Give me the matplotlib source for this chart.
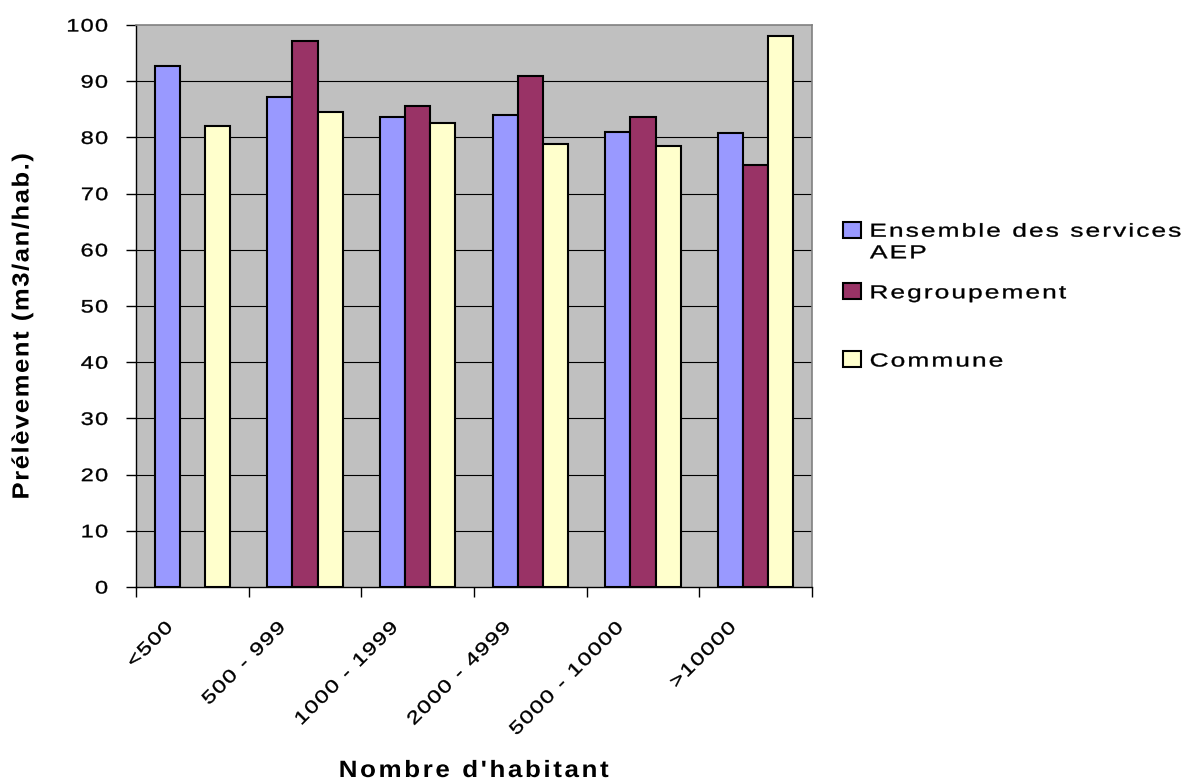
import numpy as np
import matplotlib
matplotlib.use("Agg")
import matplotlib.pyplot as plt
from matplotlib.patches import Rectangle
from matplotlib.patheffects import AbstractPathEffect
from matplotlib.path import Path
from matplotlib.transforms import Affine2D, ScaledTranslation

# ---- data -------------------------------------------------------------
categories = ["<500", "500 - 999", "1000 - 1999", "2000 - 4999",
              "5000 - 10000", ">10000"]
series_names = [["Ensemble des services", "AEP"], ["Regroupement"], ["Commune"]]
ensemble = [92.7, 87.1, 83.6, 83.9, 80.9, 80.8]
regroupement = [np.nan, 97.1, 85.5, 90.9, 83.6, 75.1]
commune = [82.0, 84.6, 82.6, 78.8, 78.5, 98.0]
y_ticks = [0, 10, 20, 30, 40, 50, 60, 70, 80, 90, 100]

colors = ["#9999FF", "#993366", "#FFFFCC"]

plt.rcParams["font.family"] = ["Liberation Sans", "DejaVu Sans"]

W, H, DPI = 1193, 780, 100


class Widen(AbstractPathEffect):
    """Draw text glyphs stretched along the writing direction, with extra
    letter spacing (track, in em) and a light outline stroke (in points)."""

    def __init__(self, sx=1.0, track=0.0, align="left", stroke=0.0):
        super().__init__()
        self.sx = sx
        self.track = track * 100.0
        self.align = align
        self.stroke = stroke

    def draw_path(self, renderer, gc, tpath, affine, rgbFace=None):
        codes = tpath.codes
        verts = np.array(tpath.vertices, dtype=float)
        if codes is None or len(verts) == 0:
            renderer.draw_path(gc, tpath, affine, rgbFace)
            return
        real = codes != Path.CLOSEPOLY
        x0, x1 = verts[real, 0].min(), verts[real, 0].max()
        if self.track:
            starts = list(np.flatnonzero(codes == Path.MOVETO)) + [len(verts)]
            cur_max, k, extra = None, -1, 0
            for a, b in zip(starts[:-1], starts[1:]):
                seg = verts[a:b][real[a:b]]
                if len(seg) == 0:
                    continue
                lo, hi = seg[:, 0].min(), seg[:, 0].max()
                if cur_max is None or lo > cur_max - 2:
                    if cur_max is not None and lo - cur_max > 22:
                        extra += 1
                    k += 1
                    cur_max = hi
                else:
                    cur_max = max(cur_max, hi)
                verts[a:b, 0] += self.track * (k + extra)
            n0, n1 = verts[real, 0].min(), verts[real, 0].max()
            shift = {"left": x0 - n0,
                     "center": 0.5 * (x0 + x1) - 0.5 * (n0 + n1),
                     "right": x1 - n1}[self.align]
            verts[:, 0] += shift
        pivot = {"left": x0, "center": 0.5 * (x0 + x1), "right": x1}[self.align]
        stretch = Affine2D().translate(-pivot, 0).scale(self.sx, 1).translate(pivot, 0)
        g = renderer.new_gc()
        g.copy_properties(gc)
        if self.stroke and rgbFace is not None:
            g.set_foreground(rgbFace)
            g.set_linewidth(self.stroke)
        renderer.draw_path(g, Path(verts, codes), stretch + affine, rgbFace)
        g.restore()


def fx(px):
    return px / W


def fy(py):
    return 1 - py / H


fig = plt.figure(figsize=(W / DPI, H / DPI), dpi=DPI)
ax = fig.add_axes([fx(136), fy(587), (812 - 136) / W, (587 - 25) / H])
ax.set_facecolor("#C0C0C0")

x = np.arange(len(categories))
bw = 0.222
for vals, off, col in zip([ensemble, regroupement, commune],
                          [-bw, 0.0, bw], colors):
    ax.bar(x + off, vals, width=bw, color=col, edgecolor="black",
           linewidth=1.5, zorder=3)

ax.set_xlim(-0.5, len(categories) - 0.5)
ax.set_ylim(0, 100)
ax.set_axisbelow(True)

# horizontal grid
for v in y_ticks[1:-1]:
    ax.axhline(v, color="black", linewidth=0.8, zorder=1)

# spines
for side in ("top", "right"):
    ax.spines[side].set_color("#808080")
    ax.spines[side].set_linewidth(1.2)
for side in ("left", "bottom"):
    ax.spines[side].set_color("black")
    ax.spines[side].set_linewidth(1.0)

tick_fx = dict(sx=1.3, track=0.055, stroke=0.25)

# y axis ticks and labels
ax.set_yticks(y_ticks)
ax.set_yticklabels([str(v) for v in y_ticks])
ax.tick_params(axis="y", direction="out", length=7.2, width=1.0,
               pad=13, labelsize=13, color="black")
for lab in ax.get_yticklabels():
    lab.set_path_effects([Widen(align="right", **tick_fx)])

# x ticks at category boundaries, labels rotated
ax.set_xticks(np.arange(len(categories) + 1) - 0.5)
ax.set_xticklabels([])
ax.tick_params(axis="x", direction="out", length=7.5, width=1.0, color="black")

offset = ScaledTranslation(-22 / DPI, -38 / DPI, fig.dpi_scale_trans)
for i, cat in enumerate(categories):
    ax.text(i, 0, cat, transform=ax.get_xaxis_transform() + offset,
            rotation=45, rotation_mode="anchor", ha="right", va="center",
            fontsize=13, path_effects=[Widen(align="right", **tick_fx)])

# axis titles
fig.text(fx(474), fy(777), "Nombre d'habitant", ha="center", va="baseline",
         fontsize=17, fontweight="bold",
         path_effects=[Widen(sx=1.1, track=0.1, align="center")])
fig.text(fx(22), fy(326), "Prélèvement (m3/an/hab.)", ha="center",
         va="center", rotation=90, fontsize=16.8, fontweight="bold",
         path_effects=[Widen(sx=1.1, track=0.06, align="center")])

# legend
legend_rows = [(222, [236.7, 258.3]), (283, [298.3]), (351, [366.5])]
for lines, col, (sq_top, bases) in zip(series_names, colors, legend_rows):
    fig.add_artist(Rectangle((fx(843), fy(sq_top + 16)), 18 / W, 16 / H,
                             transform=fig.transFigure, facecolor=col,
                             edgecolor="black", linewidth=1.5))
    for line, base in zip(lines, bases):
        fig.text(fx(870), fy(base), line, ha="left", va="baseline",
                 fontsize=13.5,
                 path_effects=[Widen(sx=1.4, track=0.08, align="left",
                                     stroke=0.25)])

fig.savefig("out.png", dpi=DPI)
